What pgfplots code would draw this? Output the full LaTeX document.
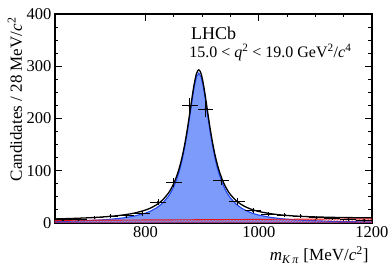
\documentclass[border=0pt]{standalone}
\usepackage{fontspec}
\setmainfont{Liberation Serif}
\usepackage{pgfplots}
\usepackage{pgfplotstable}
\pgfplotsset{compat=1.18}
\usetikzlibrary{patterns}
\definecolor{sigfill}{RGB}{125,155,250}
\definecolor{sigline}{RGB}{30,70,240}
\definecolor{bkgred}{RGB}{235,20,20}

\pgfplotstableread{
m n ex ey
654 6 14 2.45
682 7 14 2.65
710 10 14 3.16
738 13 14 3.61
766 14 14 3.74
794 18 14 4.24
822 40 14 6.32
850 78 14 8.83
878 224 14 14.97
906 218 14 14.76
934 81 14 9.00
962 41 14 6.40
990 23 14 4.80
1018 17 14 4.12
1046 15 14 3.87
1074 13 14 3.61
1102 10 14 3.16
1130 9 14 3.00
1158 7 14 2.65
1186 5 14 2.24
}\datatab

\pgfplotstableread{
m s b
640 2.75 5.00
660 3.24 5.11
680 3.86 5.21
700 4.69 5.32
720 5.80 5.43
740 7.37 5.54
760 9.65 5.64
780 13.17 5.75
800 18.96 5.86
810 23.35 5.91
820 29.40 5.96
830 38.00 6.02
840 50.66 6.07
845 59.28 6.10
850 70.04 6.13
855 83.59 6.15
860 100.72 6.18
865 122.36 6.21
870 149.36 6.23
874 175.00 6.25
878 203.60 6.27
882 233.30 6.29
886 260.30 6.31
890 279.80 6.33
894 287.00 6.36
898 279.80 6.38
902 260.30 6.40
906 233.30 6.42
910 203.60 6.45
914 175.00 6.47
918 149.36 6.49
922 127.30 6.51
926 108.80 6.54
930 93.40 6.56
935 77.80 6.59
940 65.40 6.61
945 55.60 6.64
950 47.70 6.66
960 36.00 6.71
970 28.00 6.77
980 22.40 6.82
990 18.20 6.88
1000 15.10 6.93
1020 10.90 7.04
1040 8.18 7.14
1060 6.37 7.25
1080 5.09 7.36
1100 4.17 7.46
1120 3.47 7.57
1140 2.93 7.68
1160 2.51 7.79
1180 2.18 7.89
1200 1.90 8.00
}\curvetab

\begin{document}
\begin{tikzpicture}
\begin{axis}[
  name=ax,
  scale only axis,
  width=317pt, height=209pt,
  xmin=640, xmax=1200, ymin=0, ymax=400,
  xtick={800,1000,1200},
  ytick={0,100,200,300,400},
  minor x tick num=3,
  minor y tick num=3,
  tick pos=both,
  tick align=inside,
  major tick length=7pt,
  minor tick length=3.5pt,
  axis line style={line width=1.2pt},
  every tick/.style={black, line width=1pt},
  /pgf/number format/assume math mode=true,
  /pgf/number format/1000 sep={},
  tick label style={font=\fontsize{16.5}{18}\selectfont},
  xlabel={\textit{m}\textsubscript{\textit{K}\,\textit{π}} [MeV/\textit{c}\textsuperscript{2}]},
  ylabel={Candidates / 28 MeV/\textit{c}\textsuperscript{2}},
  label style={font=\fontsize{17}{19}\selectfont},
  xlabel style={at={(axis description cs:1,-0.095)}, anchor=north east},
  ylabel style={at={(axis description cs:-0.126,1)}, anchor=east},
  clip=true,
]
\addplot[draw=sigline, line width=1.1pt, fill=sigfill] table[x=m, y=s] {\curvetab} \closedcycle;
\addplot[draw=bkgred, line width=0.9pt, pattern=north east lines, pattern color=bkgred] table[x=m, y=b] {\curvetab} \closedcycle;
\addplot[black, line width=1.3pt, smooth] table[x=m, y expr=\thisrow{s}+\thisrow{b}] {\curvetab};
\addplot[black, only marks, mark=*, mark size=1pt,
  error bars/.cd, x dir=both, x explicit, y dir=both, y explicit,
  error mark=none, error bar style={line width=1pt, black}]
  table[x=m, y=n, x error=ex, y error=ey] {\datatab};
\node[anchor=base west, font=\fontsize{18}{20}\selectfont] at (axis description cs:0.418,0.88) {LHCb};
\node[anchor=base west, font=\fontsize{16}{18}\selectfont, inner sep=0pt] at (axis description cs:0.423,0.792)
  {15.0 < \textit{q}\textsuperscript{2} < 19.0 GeV\textsuperscript{2}/\textit{c}\textsuperscript{4}};
\end{axis}
\path ([shift={(-55pt,-43pt)}]ax.south west) rectangle ([shift={(20pt,14pt)}]ax.north east);
\end{tikzpicture}
\end{document}
